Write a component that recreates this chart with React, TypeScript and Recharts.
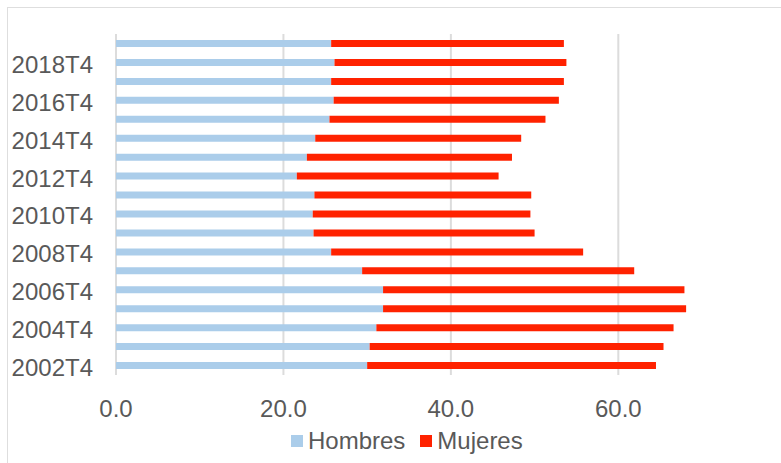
import { BarChart, Bar, XAxis, YAxis, CartesianGrid } from 'recharts'

const quarters = [
  '2002T4', '2003T4', '2004T4', '2005T4', '2006T4', '2007T4', '2008T4', '2009T4', '2010T4',
  '2011T4', '2012T4', '2013T4', '2014T4', '2015T4', '2016T4', '2017T4', '2018T4', '2019T4',
]
const hombres = [30.0, 30.3, 31.1, 31.9, 31.9, 29.4, 25.7, 23.6, 23.5, 23.7, 21.6, 22.8, 23.8, 25.5, 26.0, 25.7, 26.1, 25.7]
const mujeres = [34.5, 35.1, 35.5, 36.2, 36.0, 32.5, 30.1, 26.4, 26.0, 25.9, 24.1, 24.5, 24.6, 25.8, 26.9, 27.8, 27.7, 27.8]
const xTicks = [0, 20, 40, 60]
const X_MAX = 78

const BLUE = '#abcdea'
const RED = '#ff2200'
const TEXT = '#595959'
const FONT = '"Liberation Sans", Arial, sans-serif'

const data = quarters.map((q, i) => ({ q, hombres: hombres[i], mujeres: mujeres[i] }))

// etiquetas del eje Y, un poco por debajo del centro de la barra
const YTick = (props: any) => (
  <text x={93} y={props.y + 10.5} textAnchor="end" fill={TEXT} fontSize={24} fontFamily={FONT}>
    {props.payload.value}
  </text>
)

const XTick = (props: any) => (
  <text x={props.x} y={417} textAnchor="middle" fill={TEXT} fontSize={24} fontFamily={FONT}>
    {Number(props.payload.value).toFixed(1)}
  </text>
)

function LegendBox() {
  const items = [
    { name: 'Hombres', color: BLUE },
    { name: 'Mujeres', color: RED },
  ]
  return (
    <div
      style={{
        position: 'absolute', top: 427, left: 291, display: 'flex', alignItems: 'center',
        fontFamily: FONT, fontSize: 24, color: TEXT, whiteSpace: 'nowrap',
      }}
    >
      {items.map(it => (
        <div key={it.name} style={{ display: 'flex', alignItems: 'center', marginRight: 15 }}>
          <span style={{ display: 'inline-block', width: 12, height: 12, background: it.color, marginRight: 5 }} />
          <span>{it.name}</span>
        </div>
      ))}
    </div>
  )
}

export default function App() {
  return (
    <div style={{ position: 'absolute', left: 0, top: 0, width: 781, height: 463, background: '#fff', overflow: 'hidden' }}>
      {/* borde del gráfico, recortado a la derecha y abajo */}
      <div
        style={{
          position: 'absolute', left: 7, top: 7, width: 800, height: 480,
          borderTop: '1.5px solid #dedede', borderLeft: '1.5px solid #dedede',
        }}
      />
      <BarChart
        width={781}
        height={463}
        data={data}
        layout="vertical"
        margin={{ top: 34, right: 12, bottom: 0, left: 0 }}
      >
        <CartesianGrid
          horizontal={false}
          verticalCoordinatesGenerator={({ offset }: any) =>
            xTicks.map(v => offset.left + (v / X_MAX) * offset.width)
          }
          stroke="#dcdcdc"
          strokeWidth={2}
        />
        <XAxis
          type="number"
          domain={[0, X_MAX]}
          ticks={xTicks}
          axisLine={false}
          tickLine={false}
          tick={<XTick />}
          height={88}
        />
        <YAxis
          type="category"
          dataKey="q"
          reversed
          width={116}
          interval={1}
          axisLine={false}
          tickLine={false}
          tick={<YTick />}
        />
        <Bar dataKey="hombres" stackId="a" fill={BLUE} barSize={7} isAnimationActive={false} />
        <Bar dataKey="mujeres" stackId="a" fill={RED} barSize={7} isAnimationActive={false} />
      </BarChart>
      <LegendBox />
    </div>
  )
}
